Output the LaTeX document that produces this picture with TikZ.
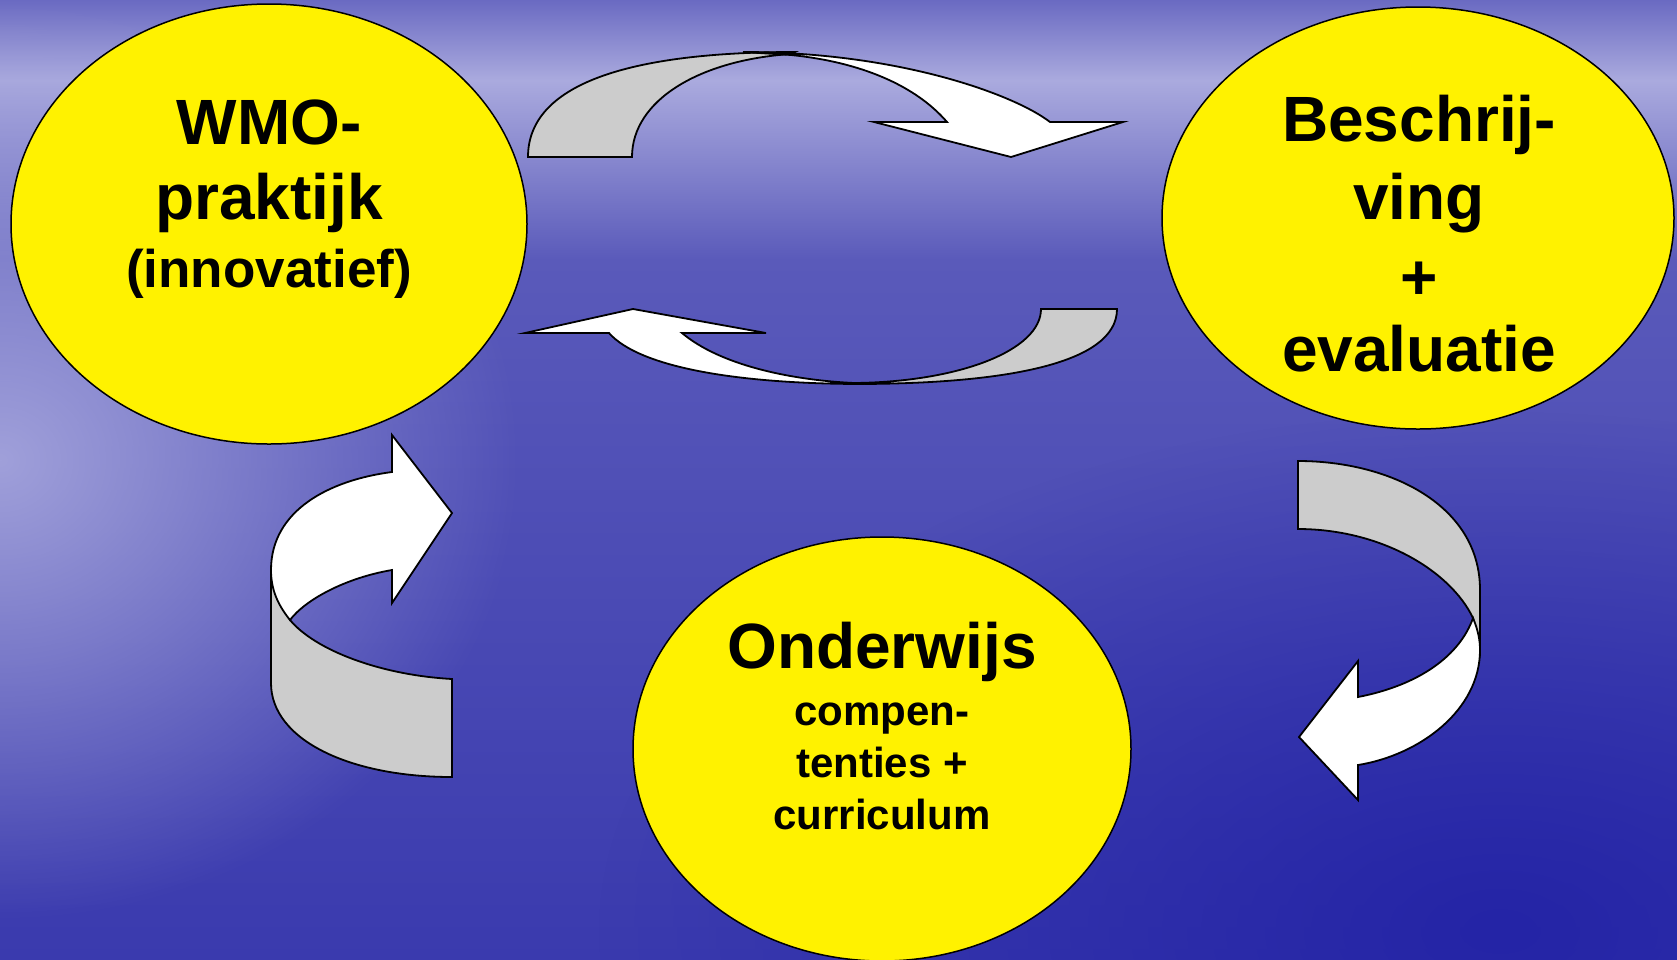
\documentclass[tikz,border=0pt]{standalone}
\usepackage{fontspec}
\setmainfont{Liberation Sans}
\usetikzlibrary{shapes.geometric,fadings}
\definecolor{bgA}{HTML}{6A6AC2}
\definecolor{bgB}{HTML}{AAAADE}
\definecolor{bgC}{HTML}{5A5ABA}
\definecolor{bgD}{HTML}{3A3AAE}
\definecolor{glow}{HTML}{A0A0DA}
\definecolor{deep}{HTML}{2424A6}
\definecolor{band}{HTML}{CCCCCC}
\tikzfading[name=softfade, inner color=transparent!0, outer color=transparent!100]
\begin{document}
\begin{tikzpicture}[x=1pt,y=-1pt,
  bubble/.style={ellipse, draw=black, line width=1.5pt, fill=yellow, inner sep=0pt},
  big/.style={font=\bfseries\fontsize{64}{64}\selectfont, anchor=base, inner sep=0pt},
  mid/.style={font=\bfseries\fontsize{53}{53}\selectfont, anchor=base, inner sep=0pt},
  small/.style={font=\bfseries\fontsize{42}{42}\selectfont, anchor=base, inner sep=0pt},
  back/.style={fill=band, draw=black, line width=1.8pt, line join=miter},
  front/.style={fill=white, draw=black, line width=1.8pt, line join=miter}]
\useasboundingbox (0,0) rectangle (1677,959);
% background
\shade[top color=bgA, bottom color=bgB] (0,0) rectangle (1677,80);
\shade[top color=bgB, bottom color=bgC] (0,80) rectangle (1677,260);
\shade[top color=bgC, bottom color=bgD] (0,260) rectangle (1677,959);
\fill[glow, path fading=softfade] (0,460) ellipse [x radius=520, y radius=460];
\fill[deep, path fading=softfade] (1500,930) ellipse [x radius=900, y radius=520];

% ellipses
\node[bubble, minimum width=516pt, minimum height=440pt] (wmo) at (269,224) {};
\node[bubble, minimum width=512pt, minimum height=422pt] (besch) at (1418,218) {};
\node[bubble, minimum width=498pt, minimum height=424pt] (ond) at (882,749) {};

% texts
\node[big] (w1) at (269,144) {WMO-};
\node[big] (w2) at (269,219) {praktijk};
\node[mid] (w3) at (269,287) {(innovatief)};
\node[big] (b1) at (1419,141) {Beschrij-};
\node[big] (b2) at (1419,219) {ving};
\node[big] (b3) at (1419,299) {+};
\node[big] (b4) at (1419,371) {evaluatie};
\node[big] (o1) at (882,668) {Onderwijs};
\node[small] (o2) at (882,725) {compen-};
\node[small] (o3) at (882,777) {tenties +};
\node[small] (o4) at (882,829) {curriculum};

% top arrow (left to right)
\draw[back] (528,157) .. controls (528,80) and (640,52) .. (795,52)
  -- (791,54) .. controls (700,60) and (632,100) .. (632,157) -- cycle;
\draw[front] (743,52) .. controls (900,52) and (1015,95) .. (1050,122)
  -- (1123,122) -- (1011,157) -- (874,122) -- (947,122)
  .. controls (915,85) and (860,62) .. (791,55) -- cycle;

% bottom arrow (right to left)
\draw[back] (1117,309) .. controls (1117,365) and (1000,384) .. (854,384)
  -- (854,383) .. controls (960,382) and (1041,350) .. (1041,309) -- cycle;
\draw[front] (864,384) .. controls (740,384) and (640,368) .. (609,333)
  -- (525,333) -- (633,309) -- (766,333) -- (682,333)
  .. controls (720,365) and (790,380) .. (854,383) -- cycle;

% left arrow (bottom up to WMO)
\draw[back] (271,577) -- (271,683) .. controls (271,740) and (350,777) .. (452,777)
  -- (452,679) .. controls (380,675) and (315,650) .. (290,620) -- cycle;
\draw[front] (290,620) .. controls (278,605) and (271,590) .. (271,570)
  .. controls (271,510) and (330,480) .. (392,472)
  -- (392,435) -- (452,513) -- (392,603) -- (392,570)
  .. controls (345,578) and (305,600) .. (290,620) -- cycle;

% right arrow (down to Onderwijs)
\draw[back] (1298,461) .. controls (1390,461) and (1480,505) .. (1480,590)
  -- (1480,650) -- (1473,618) .. controls (1450,570) and (1380,529) .. (1298,529) -- cycle;
\draw[front] (1473,618) .. controls (1478,630) and (1480,640) .. (1480,650)
  .. controls (1480,710) and (1420,755) .. (1358,765)
  -- (1358,800) -- (1299,737) -- (1358,661) -- (1358,697)
  .. controls (1420,685) and (1460,655) .. (1473,618) -- cycle;
\end{tikzpicture}
\end{document}
